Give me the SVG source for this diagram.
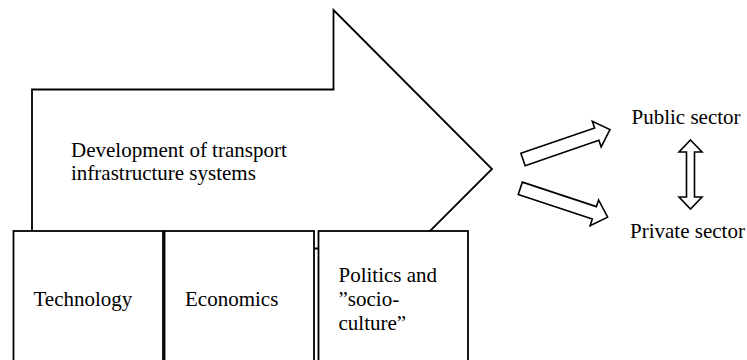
<svg xmlns="http://www.w3.org/2000/svg" width="747" height="360" viewBox="0 0 747 360">
  <style>
    .shape { fill: #fff; stroke: #000; stroke-width: 1.8; stroke-linejoin: miter; }
    .box { fill: #fff; stroke: #000; stroke-width: 1.8; }
    .conn { fill: #fff; stroke: #000; stroke-width: 1.6; stroke-linejoin: miter; }
    .label { font-family: "Times New Roman", "Liberation Serif", Tinos, serif; font-size: 21px; fill: #000; }
  </style>
  <defs>
    <!-- hollow block arrow pointing right, tail centre at origin -->
    <path id="blockArrow" d="M0,-6.5 L78,-6.5 L78,-13.5 L92,0 L78,13.5 L78,6.5 L0,6.5 Z"/>
  </defs>
  <rect width="747" height="360" fill="#fff"/>

  <!-- large development arrow -->
  <g id="development">
    <polygon class="shape" points="32,89.5 333.5,89.5 333.5,10 492,169 333.5,327.5 333.5,248.5 32,248.5"/>
    <text class="label" x="71" y="157">Development of transport</text>
    <text class="label" x="71" y="180">infrastructure systems</text>
  </g>

  <!-- driving factors -->
  <g id="technology">
    <rect class="box" x="13.5" y="231" width="149.5" height="135"/>
    <text class="label" x="33.5" y="306">Technology</text>
  </g>
  <g id="economics">
    <rect class="box" x="164.5" y="231" width="149.5" height="135"/>
    <text class="label" x="185" y="306">Economics</text>
  </g>
  <g id="politics">
    <rect class="box" x="318.5" y="231" width="149.5" height="135"/>
    <text class="label" x="338.5" y="282">Politics and</text>
    <text class="label" x="338.5" y="306">”socio-</text>
    <text class="label" x="338.5" y="330">culture”</text>
  </g>

  <!-- sectors -->
  <g id="public">
    <text class="label" x="631.5" y="124">Public sector</text>
  </g>
  <g id="private">
    <text class="label" x="630" y="238">Private sector</text>
  </g>

  <!-- connectors -->
  <g id="connectors">
    <use href="#blockArrow" class="conn" transform="translate(523,159.5) rotate(-19)"/>
    <use href="#blockArrow" class="conn" transform="translate(520.3,188.3) rotate(18.3)"/>
    <path class="conn" d="M690.5,140 L702,152 L694.5,152 L694.5,197 L702,197 L690.5,209 L679,197 L686.5,197 L686.5,152 L679,152 Z"/>
  </g>
</svg>
